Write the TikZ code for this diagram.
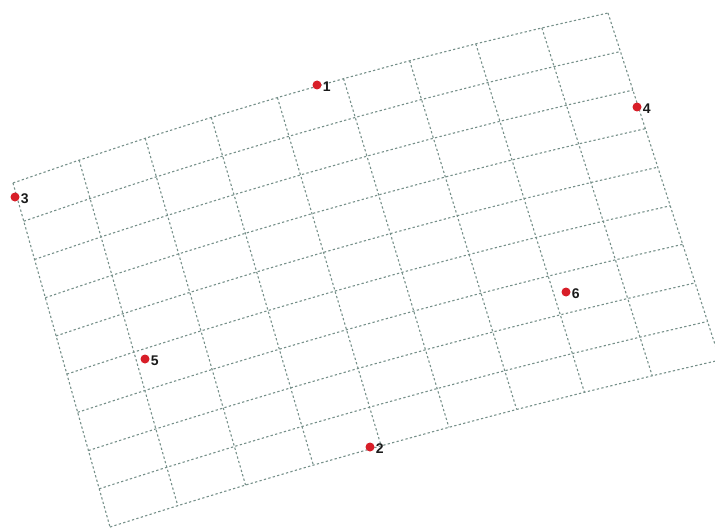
\documentclass[tikz,border=0pt]{standalone}
\usepackage{fontspec}
\setmainfont{Liberation Sans}
\usepackage{tikz}
\usetikzlibrary{positioning}
\definecolor{gl}{HTML}{76908A}
\definecolor{pt}{HTML}{D81E28}
\definecolor{tx}{HTML}{1A1A1A}
\tikzset{
  gridln/.style={gl, line width=1.1pt, dash pattern=on 2.3pt off 2.3pt},
  cpt/.style={circle, fill=pt, inner sep=0pt, minimum size=9pt},
  cpl/.style={font=\fontsize{14}{14}\selectfont\bfseries, text=tx, inner sep=1pt, yshift=-1.5pt}
}

\begin{document}
\begin{tikzpicture}[x=1pt,y=-1pt]
  \useasboundingbox (0,0) rectangle (715,532);
  \clip (0,0) rectangle (715,532);
  \foreach \i in {0,...,9}
    \foreach \j in {0,...,9}{
      \pgfmathsetmacro{\u}{\i/9}
      \pgfmathsetmacro{\v}{\j/9}
      \pgfmathsetmacro{\gx}{(1-\u)*(1-\v)*13+\u*(1-\v)*608+(1-\u)*\v*110+\u*\v*720}
      \pgfmathsetmacro{\gy}{(1-\u)*(1-\v)*183+\u*(1-\v)*13+(1-\u)*\v*527+\u*\v*360-(10-3*\v)*4*\u*(1-\u)}
      \coordinate (g-\i-\j) at (\gx,\gy);
    }
  \foreach \j in {0,...,9}
    \draw[gridln] (g-0-\j) \foreach \i in {1,...,9}{ -- (g-\i-\j)};
  \foreach \i in {0,...,9}
    \draw[gridln] (g-\i-0) \foreach \j in {1,...,9}{ -- (g-\i-\j)};

  \node[cpt] (p1) at (317,85) {};
  \node[cpl, right=0pt of p1] (n1) {1};
  \node[cpt] (p2) at (370,447) {};
  \node[cpl, right=0pt of p2] (n2) {2};
  \node[cpt] (p3) at (15,197) {};
  \node[cpl, right=0pt of p3] (n3) {3};
  \node[cpt] (p4) at (637,107) {};
  \node[cpl, right=0pt of p4] (n4) {4};
  \node[cpt] (p5) at (145,359) {};
  \node[cpl, right=0pt of p5] (n5) {5};
  \node[cpt] (p6) at (566,292) {};
  \node[cpl, right=0pt of p6] (n6) {6};
\end{tikzpicture}
\end{document}
